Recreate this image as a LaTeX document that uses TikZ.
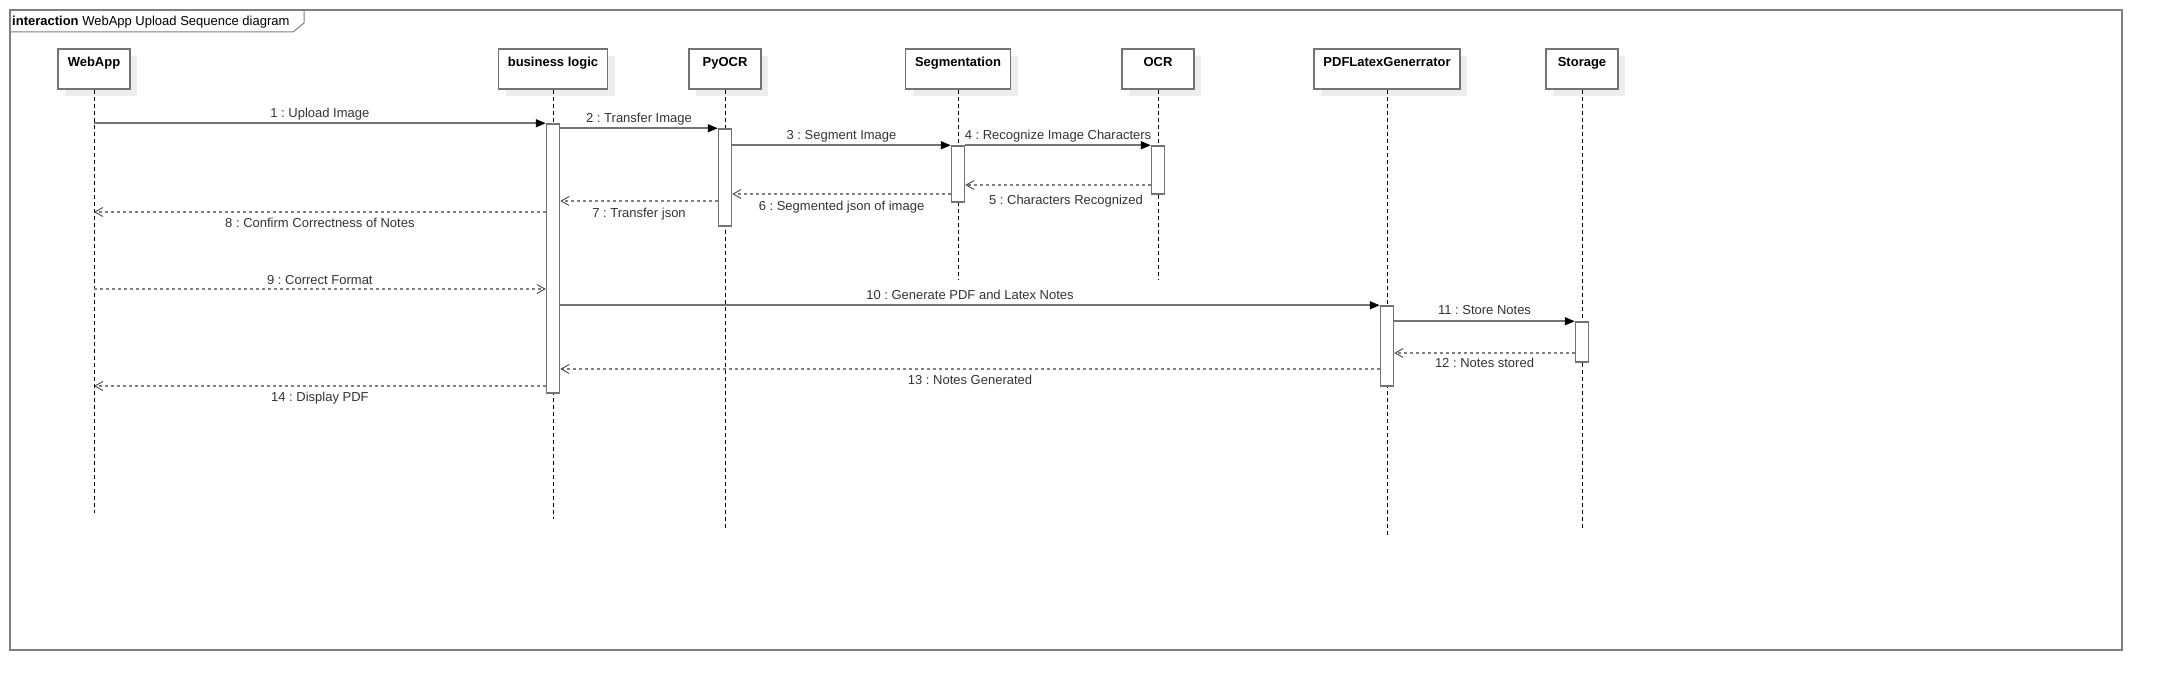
\documentclass[tikz,border=0pt]{standalone}
\usepackage{fontspec}
\setmainfont{Liberation Sans}
\usetikzlibrary{arrows.meta,shadows}
\frenchspacing
\begin{document}
\begin{tikzpicture}[x=1pt,y=-1pt,
  framestyle/.style={draw=black!50, line width=1.5pt},
  objbox/.style={draw=black!55, line width=1.5pt, fill=white, minimum height=40pt,
    inner sep=0pt, text height=10pt, text depth=15pt,
    font=\bfseries\fontsize{13}{15}\selectfont,
    drop shadow={shadow xshift=7pt, shadow yshift=-7pt, fill=black!7, opacity=1}},
  actbar/.style={draw=black!55, line width=1.5pt, fill=white, minimum width=13pt, inner sep=0pt},
  lifeline/.style={draw=black, line width=0.8pt, dash pattern=on 4pt off 3pt},
  syncmsg/.style={draw=black!55, line width=1.6pt,
    -{Triangle[length=10pt,width=8pt,color=black,fill=black]}},
  retmsg/.style={draw=black!50, line width=1.4pt, dash pattern=on 3pt off 3pt,
    -{Straight Barb[length=8pt,width=9pt,line width=0.9pt,color=black!70]}},
  msglabel/.style={font=\fontsize{13}{15}\selectfont, text=black!80, inner sep=0pt,
    text height=9.5pt, text depth=2.8pt}
]
\useasboundingbox (0,0) rectangle (2162,690);

% frame
\draw[framestyle] (10,10) rectangle (2122,650);
\draw[framestyle, line width=1pt] (10,32) -- (293,32) -- (304,23) -- (304,10);
\node[anchor=base west, inner sep=0pt, font=\fontsize{13}{15}\selectfont] (title) at (12,26)
  {\textbf{interaction} WebApp Upload Sequence diagram};

% objects
\node[objbox, minimum width=72pt]  (webapp)  at (94,69)   {WebApp};
\node[objbox, minimum width=109pt] (blogic)  at (553,69)  {business logic};
\node[objbox, minimum width=72pt]  (pyocr)   at (725,69)  {PyOCR};
\node[objbox, minimum width=105pt] (segm)    at (958,69)  {Segmentation};
\node[objbox, minimum width=72pt]  (ocr)     at (1158,69) {OCR};
\node[objbox, minimum width=146pt] (pdfgen)  at (1387,69) {PDFLatexGenerrator};
\node[objbox, minimum width=72pt]  (storage) at (1582,69) {Storage};

% lifeline ends
\coordinate (endwa)  at (94,513);
\coordinate (endbl)  at (553,519);
\coordinate (endpy)  at (725,528);
\coordinate (endseg) at (958,279);
\coordinate (endocr) at (1158,279);
\coordinate (endpdf) at (1387,535);
\coordinate (endst)  at (1582,530);

\draw[lifeline] (webapp.south)  -- (endwa);
\draw[lifeline] (blogic.south)  -- (endbl);
\draw[lifeline] (pyocr.south)   -- (endpy);
\draw[lifeline] (segm.south)    -- (endseg);
\draw[lifeline] (ocr.south)     -- (endocr);
\draw[lifeline] (pdfgen.south)  -- (endpdf);
\draw[lifeline] (storage.south) -- (endst);

% activation bars
\node[actbar, minimum height=269pt] (abl)  at (553,258.5)  {};
\node[actbar, minimum height=97pt]  (apy)  at (725,177.5)  {};
\node[actbar, minimum height=56pt]  (aseg) at (958,174)    {};
\node[actbar, minimum height=48pt]  (aocr) at (1158,170)   {};
\node[actbar, minimum height=80pt]  (apdf) at (1387,346)   {};
\node[actbar, minimum height=40pt]  (ast)  at (1582,342)   {};

% message rows
\coordinate (r5)  at (0,185);
\coordinate (r6)  at (0,194);
\coordinate (r7)  at (0,201);
\coordinate (r8)  at (0,212);
\coordinate (r9)  at (0,289);
\coordinate (r12) at (0,353);
\coordinate (r13) at (0,369);
\coordinate (r14) at (0,386);

% messages
\draw[syncmsg] (webapp |- abl.north west) -- (abl.north west)
  node[msglabel, midway, above=2.5pt] {1 : Upload Image};
\draw[syncmsg] (abl.east |- apy.north) -- (apy.north west)
  node[msglabel, midway, above=2.5pt] {2 : Transfer Image};
\draw[syncmsg] (apy.east |- aseg.north) -- (aseg.north west)
  node[msglabel, midway, above=2.5pt] {3 : Segment Image};
\draw[syncmsg] (aseg.north east) -- (aocr.north west)
  node[msglabel, midway, above=2.5pt] {4 : Recognize Image Characters};
\draw[retmsg] (aocr.west |- r5) -- (aseg.east |- r5)
  node[msglabel, midway, below=9pt, xshift=8pt] {5 : Characters Recognized};
\draw[retmsg] (aseg.west |- r6) -- (apy.east |- r6)
  node[msglabel, midway, below=6.5pt] {6 : Segmented json of image};
\draw[retmsg] (apy.west |- r7) -- (abl.east |- r7)
  node[msglabel, midway, below=6.5pt] {7 : Transfer json};
\draw[retmsg] (abl.west |- r8) -- (webapp |- r8)
  node[msglabel, midway, below=5.5pt] {8 : Confirm Correctness of Notes};
\draw[retmsg] (webapp |- r9) -- (abl.west |- r9)
  node[msglabel, midway, above=1.5pt] {9 : Correct Format};
\draw[syncmsg] (abl.east |- apdf.north) -- (apdf.north west)
  node[msglabel, midway, above=2.5pt] {10 : Generate PDF and Latex Notes};
\draw[syncmsg] (apdf.east |- ast.north) -- (ast.north west)
  node[msglabel, midway, above=3pt] {11 : Store Notes};
\draw[retmsg] (ast.west |- r12) -- (apdf.east |- r12)
  node[msglabel, midway, below=4.5pt] {12 : Notes stored};
\draw[retmsg] (apdf.west |- r13) -- (abl.east |- r13)
  node[msglabel, midway, below=5.5pt] {13 : Notes Generated};
\draw[retmsg] (abl.west |- r14) -- (webapp |- r14)
  node[msglabel, midway, below=5pt] {14 : Display PDF};
\end{tikzpicture}
\end{document}
